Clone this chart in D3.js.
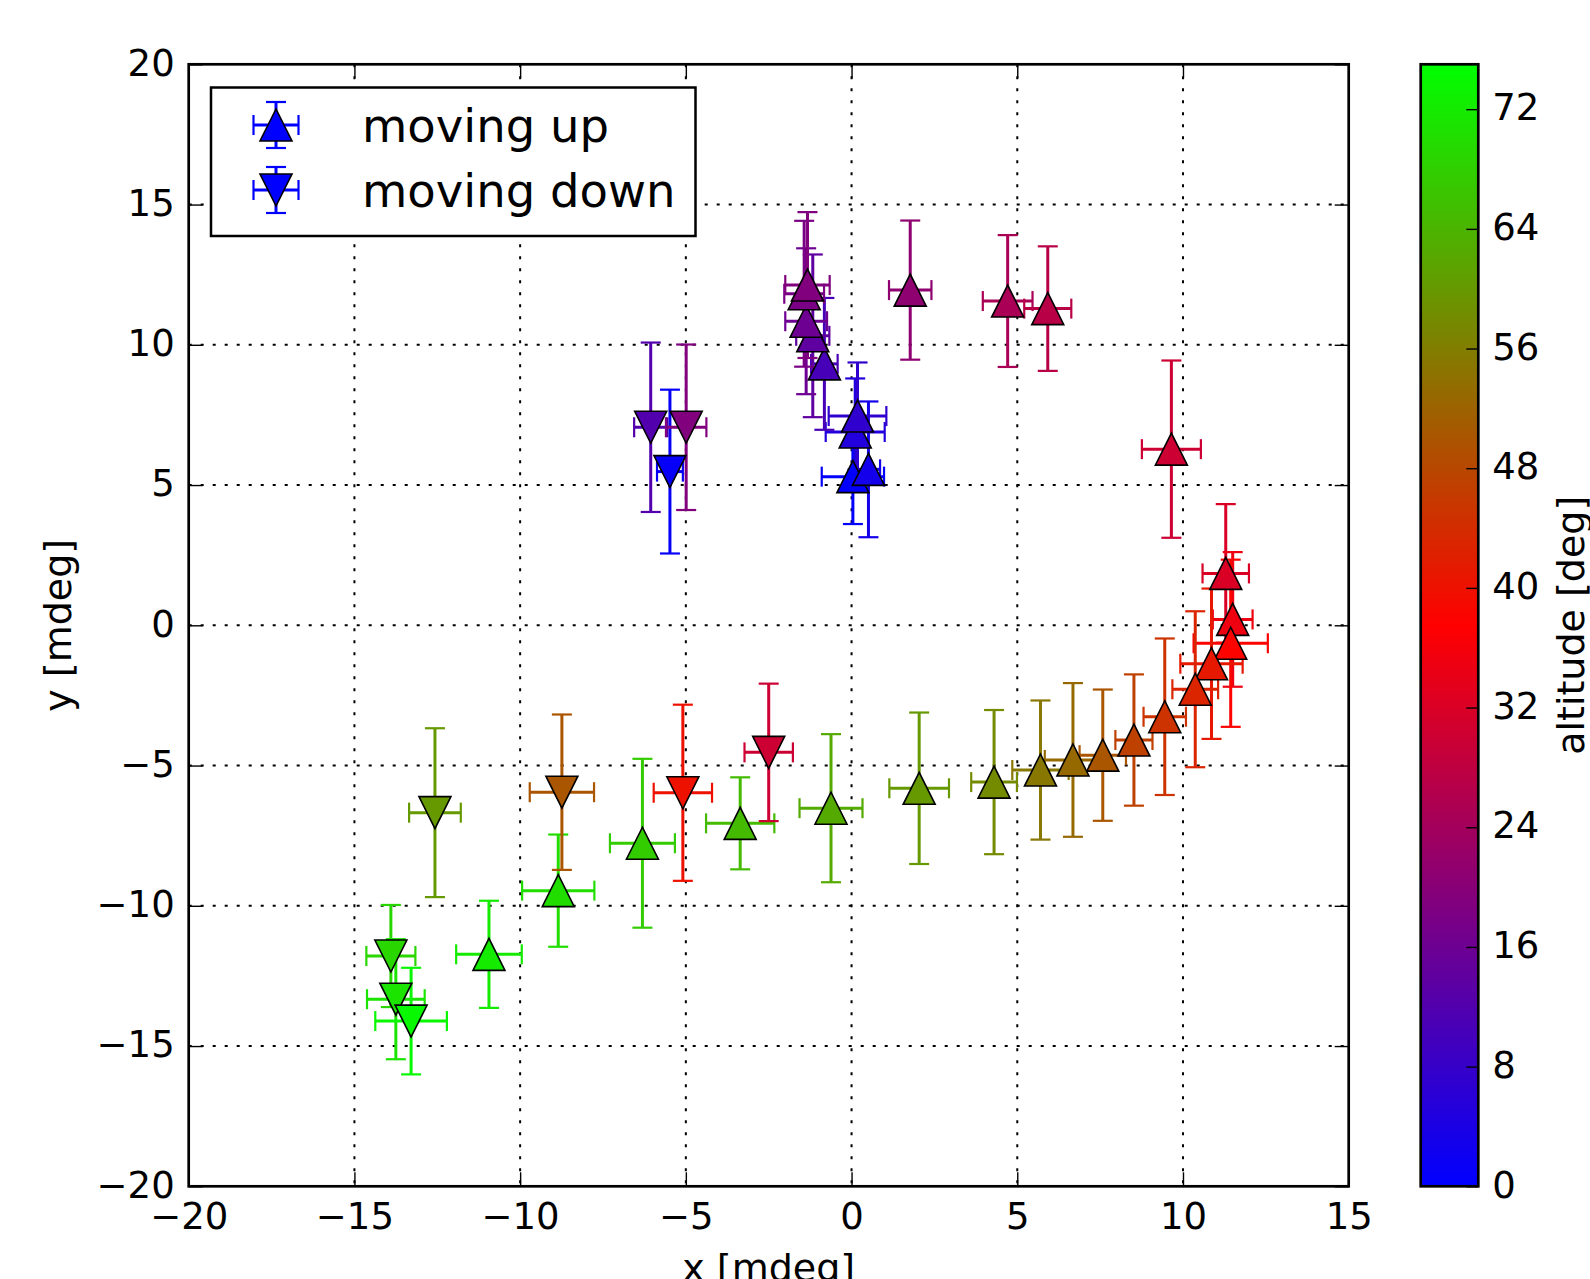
<!DOCTYPE html>
<html><head><meta charset="utf-8">
<script src="https://cdn.jsdelivr.net/npm/d3@7"></script>
<style>body{margin:0;background:#fff} text{font-family:"DejaVu Sans";fill:#000}</style>
</head><body>
<svg id="c" width="1590" height="1279"></svg>
<script>
// ---- data ----
const upX    = [0.04, 0.51, 0.11, 0.18, -0.82, -1.17, -1.37, -1.43, -1.33, 1.77, 4.71, 5.92, 9.65, 11.29, 11.50, 11.44, 10.86, 10.37, 9.45, 8.52, 7.58, 6.68, 5.70, 4.30, 2.04, -0.62, -3.36, -6.31, -8.85, -10.94];
const upY    = [5.30, 5.56, 6.89, 7.46, 9.32, 10.32, 10.84, 11.82, 12.13, 11.95, 11.56, 11.29, 6.28, 1.85, 0.21, -0.64, -1.37, -2.28, -3.26, -4.09, -4.63, -4.80, -5.16, -5.59, -5.81, -6.52, -7.06, -7.77, -9.46, -11.73];
const upXErr = [0.94, 0.35, 0.89, 0.87, 0.40, 0.50, 0.63, 0.60, 0.67, 0.64, 0.75, 0.71, 0.89, 0.70, 0.60, 1.12, 0.94, 0.69, 0.64, 0.56, 0.70, 0.85, 0.85, 0.69, 0.90, 0.95, 1.03, 0.98, 1.09, 0.99];
const upYErr = [1.69, 2.42, 1.91, 1.91, 2.35, 2.90, 2.60, 2.60, 2.60, 2.48, 2.35, 2.22, 3.16, 2.47, 2.40, 2.98, 2.68, 2.78, 2.79, 2.34, 2.34, 2.74, 2.48, 2.57, 2.70, 2.64, 1.64, 3.01, 2.00, 1.91];
const upAlt  = [0.5, 3, 5, 7, 10.5, 14, 16, 18, 19, 21, 25, 27, 30, 32, 35, 38, 41, 43, 45, 47, 50, 53, 55, 58, 60, 62.5, 65, 67.5, 70, 72];

const downX    = [-5.48, -6.06, -4.99, -2.50, -5.09, -8.74, -12.57, -13.90, -13.75, -13.29];
const downY    = [5.48, 7.06, 7.06, -4.53, -5.97, -5.95, -6.68, -11.79, -13.33, -14.11];
const downXErr = [0.39, 0.50, 0.61, 0.73, 0.88, 0.97, 0.78, 0.74, 0.87, 1.08];
const downYErr = [2.92, 3.02, 2.95, 2.45, 3.14, 2.77, 3.01, 1.82, 2.14, 1.90];
const downAlt  = [1, 12, 19, 30, 40, 50, 60, 69, 71, 74];

const xTicks  = [-20, -15, -10, -5, 0, 5, 10, 15];
const yTicks  = [-20, -15, -10, -5, 0, 5, 10, 15, 20];
const cbTicks = [0, 8, 16, 24, 32, 40, 48, 56, 64, 72];
const altDomain = [0, 75];
const cmapColors = ["#0000ff", "#ff0000", "#00ff00"];
const legendLabels = ["moving up", "moving down"];
const xLabel = "x [mdeg]", yLabel = "y [mdeg]", cbLabel = "altitude [deg]";

// ---- layout ----
const L = 188.7, R = 1348.7, T = 64.3, B = 1186.3;
const svg = d3.select("#c");
const x = d3.scaleLinear().domain([-20, 15]).range([L, R]);
const y = d3.scaleLinear().domain([-20, 20]).range([B, T]);
const color = d3.scaleLinear()
  .domain([altDomain[0], (altDomain[0] + altDomain[1]) / 2, altDomain[1]])
  .range(cmapColors).interpolate(d3.interpolateRgb).clamp(true);

const up = upX.map((v, i) => ({x: v, y: upY[i], xe: upXErr[i], ye: upYErr[i], a: upAlt[i], dir: 1}));
const down = downX.map((v, i) => ({x: v, y: downY[i], xe: downXErr[i], ye: downYErr[i], a: downAlt[i], dir: -1}));
const all = up.concat(down);

// grid
const grid = svg.append("g").attr("stroke", "#000").attr("stroke-width", 2).attr("stroke-dasharray", "3,9");
grid.selectAll(".gx").data(xTicks.slice(1, -1)).join("line")
  .attr("x1", d => x(d)).attr("x2", d => x(d)).attr("y1", T).attr("y2", B);
grid.selectAll(".gy").data(yTicks.slice(1, -1)).join("line")
  .attr("y1", d => y(d)).attr("y2", d => y(d)).attr("x1", L).attr("x2", R);

// error bars
const cap = 10;
const eb = svg.append("g").attr("fill", "none");
all.forEach(d => {
  const c = color(d.a);
  const g = eb.append("g").attr("stroke", c);
  const cx = x(d.x), cy = y(d.y);
  const x0 = x(d.x - d.xe), x1 = x(d.x + d.xe), y0 = y(d.y - d.ye), y1 = y(d.y + d.ye);
  g.append("line").attr("x1", x0).attr("x2", x1).attr("y1", cy).attr("y2", cy).attr("stroke-width", 3);
  g.append("line").attr("x1", cx).attr("x2", cx).attr("y1", y0).attr("y2", y1).attr("stroke-width", 3);
  [[x0, cy, true], [x1, cy, true], [cx, y0, false], [cx, y1, false]].forEach(([px, py, vert]) => {
    g.append("line").attr("stroke-width", 2.2)
      .attr("x1", vert ? px : px - cap).attr("x2", vert ? px : px + cap)
      .attr("y1", vert ? py - cap : py).attr("y2", vert ? py + cap : py);
  });
});

// markers
const ms = 32;
function tri(dir) {
  const h = ms / 2;
  return dir > 0 ? `M0,${-h}L${-h},${h}L${h},${h}Z` : `M0,${h}L${-h},${-h}L${h},${-h}Z`;
}
svg.append("g").selectAll("path").data(all).join("path")
  .attr("d", d => tri(d.dir))
  .attr("transform", d => `translate(${x(d.x)},${y(d.y)})`)
  .attr("fill", d => color(d.a)).attr("stroke", "#000").attr("stroke-width", 1.6)
  .attr("stroke-linejoin", "miter");

// axes (inward ticks on all sides)
const fmt = d3.format("d");
function styleAxis(g) {
  g.select(".domain").remove();
  g.selectAll(".tick line").attr("stroke", "#000").attr("stroke-width", 1.4);
  g.selectAll("text").attr("font-family", "DejaVu Sans").attr("font-size", 37).attr("fill", "#000");
}
svg.append("g").attr("transform", `translate(0,${B})`)
  .call(d3.axisBottom(x).tickValues(xTicks).tickFormat(fmt).tickSizeInner(-14).tickSizeOuter(0).tickPadding(16))
  .call(styleAxis);
svg.append("g").attr("transform", `translate(0,${T})`)
  .call(d3.axisTop(x).tickValues(xTicks).tickFormat("").tickSizeInner(-14).tickSizeOuter(0))
  .call(styleAxis);
const yAx = svg.append("g").attr("transform", `translate(${L},0)`)
  .call(d3.axisLeft(y).tickValues(yTicks).tickFormat(fmt).tickSizeInner(-14).tickSizeOuter(0).tickPadding(14))
  .call(styleAxis);
yAx.selectAll("text").attr("dy", "0.29em");
svg.append("g").attr("transform", `translate(${R},0)`)
  .call(d3.axisRight(y).tickValues(yTicks).tickFormat("").tickSizeInner(-14).tickSizeOuter(0))
  .call(styleAxis);

// frame
svg.append("rect").attr("x", L).attr("y", T).attr("width", R - L).attr("height", B - T)
  .attr("fill", "none").attr("stroke", "#000").attr("stroke-width", 2.7);

// axis labels
svg.append("text").attr("x", (L + R) / 2).attr("y", 1281).attr("text-anchor", "middle")
  .attr("font-size", 38).text(xLabel);
svg.append("text").attr("transform", `translate(70.6,${(T + B) / 2}) rotate(-90)`).attr("text-anchor", "middle")
  .attr("font-size", 38).text(yLabel);

// legend
const lg = svg.append("g");
lg.append("rect").attr("x", 211).attr("y", 87.5).attr("width", 484.5).attr("height", 148.5)
  .attr("fill", "#fff").attr("stroke", "#000").attr("stroke-width", 2.5);
legendLabels.forEach((lab, i) => {
  const cy = 125 + i * 65, cx = 276, dir = i === 0 ? 1 : -1;
  const g = lg.append("g").attr("stroke", "#0000ff").attr("fill", "none");
  g.append("line").attr("x1", cx - 22.5).attr("x2", cx + 22.5).attr("y1", cy).attr("y2", cy).attr("stroke-width", 3);
  g.append("line").attr("x1", cx).attr("x2", cx).attr("y1", cy - 23).attr("y2", cy + 23).attr("stroke-width", 3);
  [[cx - 22.5, cy, true], [cx + 22.5, cy, true], [cx, cy - 23, false], [cx, cy + 23, false]].forEach(([px, py, vert]) => {
    g.append("line").attr("stroke-width", 2.2)
      .attr("x1", vert ? px : px - cap).attr("x2", vert ? px : px + cap)
      .attr("y1", vert ? py - cap : py).attr("y2", vert ? py + cap : py);
  });
  lg.append("path").attr("d", tri(dir)).attr("transform", `translate(${cx},${cy})`)
    .attr("fill", "#0000ff").attr("stroke", "#000").attr("stroke-width", 1.6);
  lg.append("text").attr("x", 362).attr("y", cy + 16.5).attr("font-size", 46.5).text(lab);
});

// colorbar
const CL = 1420.7, CR = 1478.3;
const defs = svg.append("defs");
const grad = defs.append("linearGradient").attr("id", "cbg").attr("x1", 0).attr("y1", 1).attr("x2", 0).attr("y2", 0);
[0, 0.5, 1].forEach((o, i) => grad.append("stop").attr("offset", o).attr("stop-color", cmapColors[i]));
svg.append("rect").attr("x", CL).attr("y", T).attr("width", CR - CL).attr("height", B - T).attr("fill", "url(#cbg)");
const cb = d3.scaleLinear().domain(altDomain).range([B, T]);
const cbAx = svg.append("g").attr("transform", `translate(${CR},0)`)
  .call(d3.axisRight(cb).tickValues(cbTicks).tickFormat(fmt).tickSizeInner(-12).tickSizeOuter(0).tickPadding(14))
  .call(styleAxis);
cbAx.selectAll("text").attr("dy", "0.29em");
svg.append("rect").attr("x", CL).attr("y", T).attr("width", CR - CL).attr("height", B - T)
  .attr("fill", "none").attr("stroke", "#000").attr("stroke-width", 2.7);
svg.append("text").attr("transform", `translate(1584,${(T + B) / 2}) rotate(-90)`).attr("text-anchor", "middle")
  .attr("font-size", 38).text(cbLabel);
</script>
</body></html>
